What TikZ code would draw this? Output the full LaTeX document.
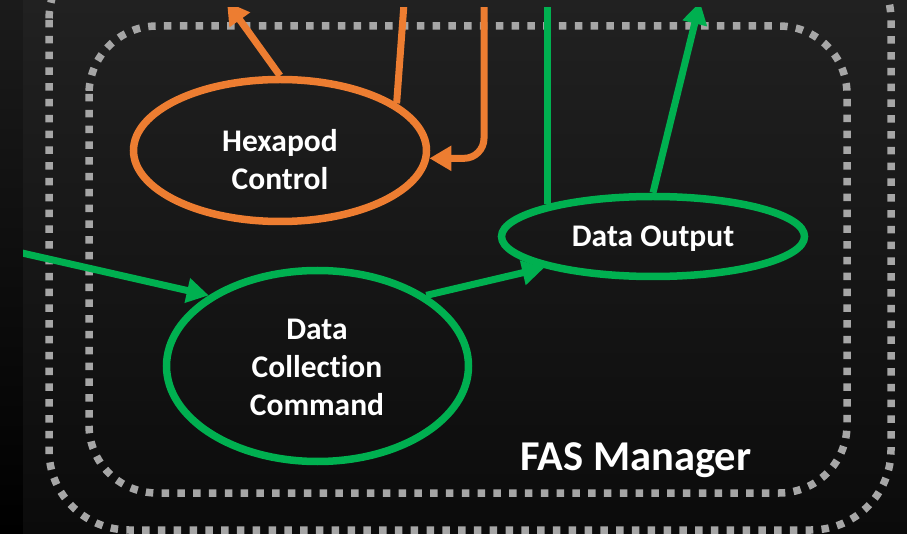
\documentclass[tikz,border=0pt]{standalone}
\usepackage{fontspec}
\setmainfont{Carlito}[Ligatures=NoCommon]
\usetikzlibrary{arrows.meta,shapes.geometric}
\definecolor{slidetop}{HTML}{212121}
\definecolor{slidebot}{HTML}{0B0B0B}
\definecolor{striptop}{HTML}{1B1B1B}
\definecolor{dotgray}{HTML}{A6A6A6}
\definecolor{hexorange}{HTML}{ED7D31}
\definecolor{flowgreen}{HTML}{00B050}
\begin{document}
\begin{tikzpicture}[x=1pt,y=-1pt,
  ovalnode/.style={ellipse, line width=7.5pt, inner sep=0pt},
  lbl/.style={text=white, font=\bfseries\fontsize{31.5}{38}\selectfont, align=center},
  flowarrow/.style={line width=7pt, -{Triangle[length=22pt,width=24pt]}},
  link/.style={line width=7pt},
  dotframe/.style={draw=dotgray, line width=7.5pt, dash pattern=on 7.5pt off 8.3pt}
]
\useasboundingbox (0,0) rectangle (907,534);
\begin{scope}
  \clip (0,0) rectangle (907,534);
  % background
  \shade[top color=striptop, bottom color=black] (0,0) rectangle (23,534);
  \shade[top color=slidetop, bottom color=slidebot] (23,0) rectangle (907,534);
  % dotted boundaries
  \draw[dotframe, rounded corners=80pt] (49,-60) rectangle (891,530);
  \draw[dotframe, rounded corners=68pt] (89,26) rectangle (847,493);
\end{scope}

% components
\node[ovalnode, draw=hexorange, minimum width=293pt, minimum height=142pt] (hex) at (280,150.5) {};
\node[ovalnode, draw=flowgreen, minimum width=303pt, minimum height=80pt] (out) at (653,236.5) {};
\node[ovalnode, draw=flowgreen, minimum width=302pt, minimum height=191pt] (dcc) at (317.5,366) {};

\node[lbl] (hext) at (280,160) {Hexapod\\Control};
\node[lbl] (outt) at (653,239) {Data Output};
\node[lbl] (dcct) at (317,367.5) {Data\\Collection\\Command};
\node[lbl, font=\bfseries\fontsize{42.5}{48}\selectfont, anchor=base] (fas) at (636,470) {FAS Manager};

% connectors
\coordinate (topedge) at (0,-20);
\coordinate (hexup) at (227,2);
\coordinate (hexline) at (405,-10);
\coordinate (hexin) at (484,-10);
\coordinate (outup) at (700,2);
\coordinate (dccin) at (0,248);
\begin{scope}
  \clip (23,8) rectangle (907,534);
  \draw[flowarrow, hexorange] (hex.north) -- (hexup);
  \draw[link, hexorange] (hex.22) -- (hexline);
  \draw[flowarrow, hexorange, rounded corners=20pt] (hexin) |- (hex.-3);
  \draw[link, flowgreen] (out.163) -- (out.163 |- topedge);
  \draw[flowarrow, flowgreen] (out.north) -- (outup);
  \draw[flowarrow, flowgreen] (dccin) -- (dcc.147);
  \draw[flowarrow, flowgreen] (dcc.33) -- (out.196);
\end{scope}
\end{tikzpicture}
\end{document}
